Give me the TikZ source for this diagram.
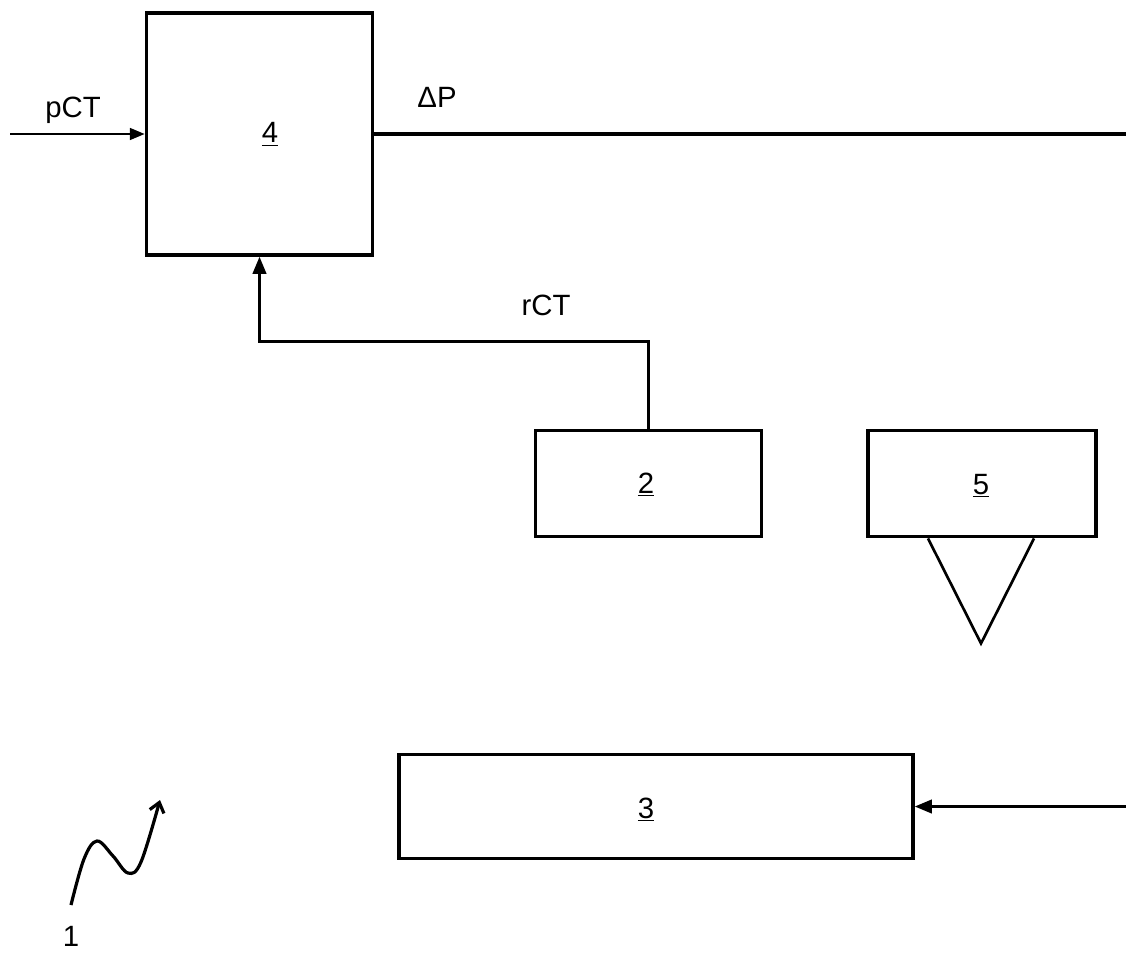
\documentclass[tikz,border=0pt]{standalone}
\usepackage{fontspec}
\setmainfont{Liberation Sans}
\usetikzlibrary{arrows.meta}

\tikzset{
  block/.style={draw,line width=2.4pt,inner sep=0pt},
  signal/.style={line width=1.1pt,-{Triangle[length=11pt,width=9pt]}},
  bus/.style={line width=2.4pt},
  tag/.style={inner sep=0pt,anchor=base,font=\fontsize{22}{26}\selectfont}
}

\begin{document}
\begin{tikzpicture}[x=0.75pt,y=-0.75pt]
        \useasboundingbox (0,0) rectangle (1126,952);
        % blocks
        \node[block,minimum width=170pt,minimum height=181.5pt] (b4) at (259.5,134) {};
        \node[block,minimum width=170pt,minimum height=80pt] (b2) at (648.5,483.5) {};
        \node[block,minimum width=171pt,minimum height=80pt] (b5) at (982,483.5) {};
        \node[block,minimum width=385.5pt,minimum height=78.5pt] (b3) at (656,806.5) {};
        \node[tag] (l4) at (270,143) {\underline{4}};
        \node[tag] (l2) at (646,493) {\underline{2}};
        \node[tag] (l5) at (981,494) {\underline{5}};
        \node[tag] (l3) at (646,818) {\underline{3}};
        % signals
        \coordinate (pin) at (10,134);
        \coordinate (dpout) at (1126,134);
        \coordinate (b3in) at (1126,806.5);
        \draw[signal] (pin) -- (b4.west);
        \draw[bus] (b4.east) -- (dpout);
        \draw[bus,-{Triangle[length=13pt,width=10pt]}] (b2.north) -- ++(0,-87) -| (b4.south);
        \draw[bus,-{Triangle[length=13pt,width=10pt]}] (b3in) -- (b3.east);
        \node[tag] (pct) at (73,118) {pCT};
        \node[tag] (dp) at (437,108) {ΔP};
        \node[tag] (rct) at (546,315) {rCT};
        % probe below 5
        \draw[line width=2pt,line join=miter] ([xshift=-40.5pt]b5.south) -- ++(53,105) -- ++(53,-105);
        % reference sign 1
        \draw[line width=2.4pt,-{Straight Barb[length=7pt,width=11pt]}] plot[smooth,tension=0.6] coordinates {(71,905) (84,859) (97,841) (113,856) (128,873) (141,862) (160,800)};
        \node[tag] (ref1) at (71,946) {1};
\end{tikzpicture}
\end{document}
